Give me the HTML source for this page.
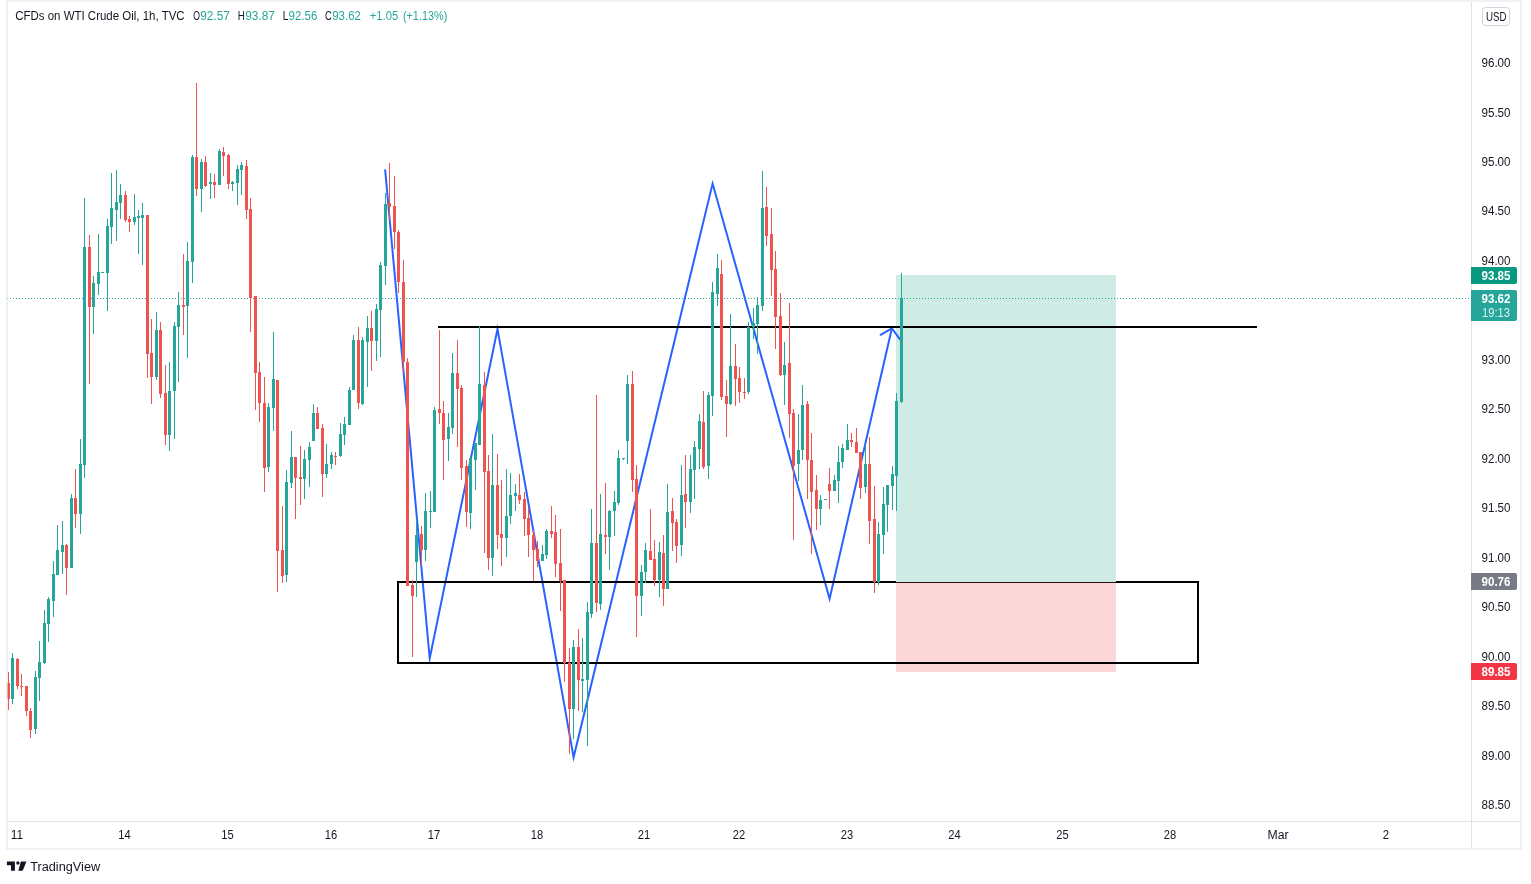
<!DOCTYPE html>
<html lang="en"><head><meta charset="utf-8"><title>CFDs on WTI Crude Oil, 1h, TVC</title>
<style>
html,body{margin:0;padding:0;background:#fff;}
body{width:1531px;height:884px;overflow:hidden;font-family:"Liberation Sans",sans-serif;}
svg{display:block;position:absolute;left:0;top:0;}
text{font-family:"Liberation Sans",sans-serif;}
.ax{font-size:12px;fill:#131722;}
.lb{font-size:12px;fill:#fff;font-weight:bold;}
</style></head><body>
<svg width="1531" height="884" viewBox="0 0 1531 884">

<g shape-rendering="crispEdges">
<rect x="6" y="0" width="1516" height="2" fill="#eff1f5"/>
<rect x="6" y="0" width="2" height="850" fill="#eff1f5"/>
<rect x="1520" y="0" width="2" height="850" fill="#eff1f5"/>
<rect x="6" y="848" width="1516" height="2" fill="#eff1f5"/>
<rect x="1471" y="2" width="1" height="846" fill="#e0e3eb"/>
<rect x="8" y="821" width="1512" height="1" fill="#e0e3eb"/>
</g>
<g shape-rendering="crispEdges">
<rect x="896" y="275" width="220" height="307" fill="#089981" fill-opacity="0.2"/>
<rect x="896" y="582" width="220" height="90" fill="#f23645" fill-opacity="0.2"/>
</g>
<g shape-rendering="crispEdges" fill="#26a69a">
<path d="M10 298h1v1h-1zM13 298h1v1h-1zM16 298h1v1h-1zM19 298h1v1h-1zM22 298h1v1h-1zM25 298h1v1h-1zM28 298h1v1h-1zM31 298h1v1h-1zM34 298h1v1h-1zM37 298h1v1h-1zM40 298h1v1h-1zM43 298h1v1h-1zM46 298h1v1h-1zM49 298h1v1h-1zM52 298h1v1h-1zM55 298h1v1h-1zM58 298h1v1h-1zM61 298h1v1h-1zM64 298h1v1h-1zM67 298h1v1h-1zM70 298h1v1h-1zM73 298h1v1h-1zM76 298h1v1h-1zM79 298h1v1h-1zM82 298h1v1h-1zM85 298h1v1h-1zM88 298h1v1h-1zM91 298h1v1h-1zM94 298h1v1h-1zM97 298h1v1h-1zM100 298h1v1h-1zM103 298h1v1h-1zM106 298h1v1h-1zM109 298h1v1h-1zM112 298h1v1h-1zM115 298h1v1h-1zM118 298h1v1h-1zM121 298h1v1h-1zM124 298h1v1h-1zM127 298h1v1h-1zM130 298h1v1h-1zM133 298h1v1h-1zM136 298h1v1h-1zM139 298h1v1h-1zM142 298h1v1h-1zM145 298h1v1h-1zM148 298h1v1h-1zM151 298h1v1h-1zM154 298h1v1h-1zM157 298h1v1h-1zM160 298h1v1h-1zM163 298h1v1h-1zM166 298h1v1h-1zM169 298h1v1h-1zM172 298h1v1h-1zM175 298h1v1h-1zM178 298h1v1h-1zM181 298h1v1h-1zM184 298h1v1h-1zM187 298h1v1h-1zM190 298h1v1h-1zM193 298h1v1h-1zM196 298h1v1h-1zM199 298h1v1h-1zM202 298h1v1h-1zM205 298h1v1h-1zM208 298h1v1h-1zM211 298h1v1h-1zM214 298h1v1h-1zM217 298h1v1h-1zM220 298h1v1h-1zM223 298h1v1h-1zM226 298h1v1h-1zM229 298h1v1h-1zM232 298h1v1h-1zM235 298h1v1h-1zM238 298h1v1h-1zM241 298h1v1h-1zM244 298h1v1h-1zM247 298h1v1h-1zM250 298h1v1h-1zM253 298h1v1h-1zM256 298h1v1h-1zM259 298h1v1h-1zM262 298h1v1h-1zM265 298h1v1h-1zM268 298h1v1h-1zM271 298h1v1h-1zM274 298h1v1h-1zM277 298h1v1h-1zM280 298h1v1h-1zM283 298h1v1h-1zM286 298h1v1h-1zM289 298h1v1h-1zM292 298h1v1h-1zM295 298h1v1h-1zM298 298h1v1h-1zM301 298h1v1h-1zM304 298h1v1h-1zM307 298h1v1h-1zM310 298h1v1h-1zM313 298h1v1h-1zM316 298h1v1h-1zM319 298h1v1h-1zM322 298h1v1h-1zM325 298h1v1h-1zM328 298h1v1h-1zM331 298h1v1h-1zM334 298h1v1h-1zM337 298h1v1h-1zM340 298h1v1h-1zM343 298h1v1h-1zM346 298h1v1h-1zM349 298h1v1h-1zM352 298h1v1h-1zM355 298h1v1h-1zM358 298h1v1h-1zM361 298h1v1h-1zM364 298h1v1h-1zM367 298h1v1h-1zM370 298h1v1h-1zM373 298h1v1h-1zM376 298h1v1h-1zM379 298h1v1h-1zM382 298h1v1h-1zM385 298h1v1h-1zM388 298h1v1h-1zM391 298h1v1h-1zM394 298h1v1h-1zM397 298h1v1h-1zM400 298h1v1h-1zM403 298h1v1h-1zM406 298h1v1h-1zM409 298h1v1h-1zM412 298h1v1h-1zM415 298h1v1h-1zM418 298h1v1h-1zM421 298h1v1h-1zM424 298h1v1h-1zM427 298h1v1h-1zM430 298h1v1h-1zM433 298h1v1h-1zM436 298h1v1h-1zM439 298h1v1h-1zM442 298h1v1h-1zM445 298h1v1h-1zM448 298h1v1h-1zM451 298h1v1h-1zM454 298h1v1h-1zM457 298h1v1h-1zM460 298h1v1h-1zM463 298h1v1h-1zM466 298h1v1h-1zM469 298h1v1h-1zM472 298h1v1h-1zM475 298h1v1h-1zM478 298h1v1h-1zM481 298h1v1h-1zM484 298h1v1h-1zM487 298h1v1h-1zM490 298h1v1h-1zM493 298h1v1h-1zM496 298h1v1h-1zM499 298h1v1h-1zM502 298h1v1h-1zM505 298h1v1h-1zM508 298h1v1h-1zM511 298h1v1h-1zM514 298h1v1h-1zM517 298h1v1h-1zM520 298h1v1h-1zM523 298h1v1h-1zM526 298h1v1h-1zM529 298h1v1h-1zM532 298h1v1h-1zM535 298h1v1h-1zM538 298h1v1h-1zM541 298h1v1h-1zM544 298h1v1h-1zM547 298h1v1h-1zM550 298h1v1h-1zM553 298h1v1h-1zM556 298h1v1h-1zM559 298h1v1h-1zM562 298h1v1h-1zM565 298h1v1h-1zM568 298h1v1h-1zM571 298h1v1h-1zM574 298h1v1h-1zM577 298h1v1h-1zM580 298h1v1h-1zM583 298h1v1h-1zM586 298h1v1h-1zM589 298h1v1h-1zM592 298h1v1h-1zM595 298h1v1h-1zM598 298h1v1h-1zM601 298h1v1h-1zM604 298h1v1h-1zM607 298h1v1h-1zM610 298h1v1h-1zM613 298h1v1h-1zM616 298h1v1h-1zM619 298h1v1h-1zM622 298h1v1h-1zM625 298h1v1h-1zM628 298h1v1h-1zM631 298h1v1h-1zM634 298h1v1h-1zM637 298h1v1h-1zM640 298h1v1h-1zM643 298h1v1h-1zM646 298h1v1h-1zM649 298h1v1h-1zM652 298h1v1h-1zM655 298h1v1h-1zM658 298h1v1h-1zM661 298h1v1h-1zM664 298h1v1h-1zM667 298h1v1h-1zM670 298h1v1h-1zM673 298h1v1h-1zM676 298h1v1h-1zM679 298h1v1h-1zM682 298h1v1h-1zM685 298h1v1h-1zM688 298h1v1h-1zM691 298h1v1h-1zM694 298h1v1h-1zM697 298h1v1h-1zM700 298h1v1h-1zM703 298h1v1h-1zM706 298h1v1h-1zM709 298h1v1h-1zM712 298h1v1h-1zM715 298h1v1h-1zM718 298h1v1h-1zM721 298h1v1h-1zM724 298h1v1h-1zM727 298h1v1h-1zM730 298h1v1h-1zM733 298h1v1h-1zM736 298h1v1h-1zM739 298h1v1h-1zM742 298h1v1h-1zM745 298h1v1h-1zM748 298h1v1h-1zM751 298h1v1h-1zM754 298h1v1h-1zM757 298h1v1h-1zM760 298h1v1h-1zM763 298h1v1h-1zM766 298h1v1h-1zM769 298h1v1h-1zM772 298h1v1h-1zM775 298h1v1h-1zM778 298h1v1h-1zM781 298h1v1h-1zM784 298h1v1h-1zM787 298h1v1h-1zM790 298h1v1h-1zM793 298h1v1h-1zM796 298h1v1h-1zM799 298h1v1h-1zM802 298h1v1h-1zM805 298h1v1h-1zM808 298h1v1h-1zM811 298h1v1h-1zM814 298h1v1h-1zM817 298h1v1h-1zM820 298h1v1h-1zM823 298h1v1h-1zM826 298h1v1h-1zM829 298h1v1h-1zM832 298h1v1h-1zM835 298h1v1h-1zM838 298h1v1h-1zM841 298h1v1h-1zM844 298h1v1h-1zM847 298h1v1h-1zM850 298h1v1h-1zM853 298h1v1h-1zM856 298h1v1h-1zM859 298h1v1h-1zM862 298h1v1h-1zM865 298h1v1h-1zM868 298h1v1h-1zM871 298h1v1h-1zM874 298h1v1h-1zM877 298h1v1h-1zM880 298h1v1h-1zM883 298h1v1h-1zM886 298h1v1h-1zM889 298h1v1h-1zM892 298h1v1h-1zM895 298h1v1h-1zM898 298h1v1h-1zM901 298h1v1h-1zM904 298h1v1h-1zM907 298h1v1h-1zM910 298h1v1h-1zM913 298h1v1h-1zM916 298h1v1h-1zM919 298h1v1h-1zM922 298h1v1h-1zM925 298h1v1h-1zM928 298h1v1h-1zM931 298h1v1h-1zM934 298h1v1h-1zM937 298h1v1h-1zM940 298h1v1h-1zM943 298h1v1h-1zM946 298h1v1h-1zM949 298h1v1h-1zM952 298h1v1h-1zM955 298h1v1h-1zM958 298h1v1h-1zM961 298h1v1h-1zM964 298h1v1h-1zM967 298h1v1h-1zM970 298h1v1h-1zM973 298h1v1h-1zM976 298h1v1h-1zM979 298h1v1h-1zM982 298h1v1h-1zM985 298h1v1h-1zM988 298h1v1h-1zM991 298h1v1h-1zM994 298h1v1h-1zM997 298h1v1h-1zM1000 298h1v1h-1zM1003 298h1v1h-1zM1006 298h1v1h-1zM1009 298h1v1h-1zM1012 298h1v1h-1zM1015 298h1v1h-1zM1018 298h1v1h-1zM1021 298h1v1h-1zM1024 298h1v1h-1zM1027 298h1v1h-1zM1030 298h1v1h-1zM1033 298h1v1h-1zM1036 298h1v1h-1zM1039 298h1v1h-1zM1042 298h1v1h-1zM1045 298h1v1h-1zM1048 298h1v1h-1zM1051 298h1v1h-1zM1054 298h1v1h-1zM1057 298h1v1h-1zM1060 298h1v1h-1zM1063 298h1v1h-1zM1066 298h1v1h-1zM1069 298h1v1h-1zM1072 298h1v1h-1zM1075 298h1v1h-1zM1078 298h1v1h-1zM1081 298h1v1h-1zM1084 298h1v1h-1zM1087 298h1v1h-1zM1090 298h1v1h-1zM1093 298h1v1h-1zM1096 298h1v1h-1zM1099 298h1v1h-1zM1102 298h1v1h-1zM1105 298h1v1h-1zM1108 298h1v1h-1zM1111 298h1v1h-1zM1114 298h1v1h-1zM1117 298h1v1h-1zM1120 298h1v1h-1zM1123 298h1v1h-1zM1126 298h1v1h-1zM1129 298h1v1h-1zM1132 298h1v1h-1zM1135 298h1v1h-1zM1138 298h1v1h-1zM1141 298h1v1h-1zM1144 298h1v1h-1zM1147 298h1v1h-1zM1150 298h1v1h-1zM1153 298h1v1h-1zM1156 298h1v1h-1zM1159 298h1v1h-1zM1162 298h1v1h-1zM1165 298h1v1h-1zM1168 298h1v1h-1zM1171 298h1v1h-1zM1174 298h1v1h-1zM1177 298h1v1h-1zM1180 298h1v1h-1zM1183 298h1v1h-1zM1186 298h1v1h-1zM1189 298h1v1h-1zM1192 298h1v1h-1zM1195 298h1v1h-1zM1198 298h1v1h-1zM1201 298h1v1h-1zM1204 298h1v1h-1zM1207 298h1v1h-1zM1210 298h1v1h-1zM1213 298h1v1h-1zM1216 298h1v1h-1zM1219 298h1v1h-1zM1222 298h1v1h-1zM1225 298h1v1h-1zM1228 298h1v1h-1zM1231 298h1v1h-1zM1234 298h1v1h-1zM1237 298h1v1h-1zM1240 298h1v1h-1zM1243 298h1v1h-1zM1246 298h1v1h-1zM1249 298h1v1h-1zM1252 298h1v1h-1zM1255 298h1v1h-1zM1258 298h1v1h-1zM1261 298h1v1h-1zM1264 298h1v1h-1zM1267 298h1v1h-1zM1270 298h1v1h-1zM1273 298h1v1h-1zM1276 298h1v1h-1zM1279 298h1v1h-1zM1282 298h1v1h-1zM1285 298h1v1h-1zM1288 298h1v1h-1zM1291 298h1v1h-1zM1294 298h1v1h-1zM1297 298h1v1h-1zM1300 298h1v1h-1zM1303 298h1v1h-1zM1306 298h1v1h-1zM1309 298h1v1h-1zM1312 298h1v1h-1zM1315 298h1v1h-1zM1318 298h1v1h-1zM1321 298h1v1h-1zM1324 298h1v1h-1zM1327 298h1v1h-1zM1330 298h1v1h-1zM1333 298h1v1h-1zM1336 298h1v1h-1zM1339 298h1v1h-1zM1342 298h1v1h-1zM1345 298h1v1h-1zM1348 298h1v1h-1zM1351 298h1v1h-1zM1354 298h1v1h-1zM1357 298h1v1h-1zM1360 298h1v1h-1zM1363 298h1v1h-1zM1366 298h1v1h-1zM1369 298h1v1h-1zM1372 298h1v1h-1zM1375 298h1v1h-1zM1378 298h1v1h-1zM1381 298h1v1h-1zM1384 298h1v1h-1zM1387 298h1v1h-1zM1390 298h1v1h-1zM1393 298h1v1h-1zM1396 298h1v1h-1zM1399 298h1v1h-1zM1402 298h1v1h-1zM1405 298h1v1h-1zM1408 298h1v1h-1zM1411 298h1v1h-1zM1414 298h1v1h-1zM1417 298h1v1h-1zM1420 298h1v1h-1zM1423 298h1v1h-1zM1426 298h1v1h-1zM1429 298h1v1h-1zM1432 298h1v1h-1zM1435 298h1v1h-1zM1438 298h1v1h-1zM1441 298h1v1h-1zM1444 298h1v1h-1zM1447 298h1v1h-1zM1450 298h1v1h-1zM1453 298h1v1h-1zM1456 298h1v1h-1zM1459 298h1v1h-1zM1462 298h1v1h-1zM1465 298h1v1h-1zM1468 298h1v1h-1z"/>
<rect x="7" y="298" width="1" height="1" fill-opacity="0.4"/>
</g>
<polyline fill="none" stroke="#2962ff" stroke-width="2" stroke-linejoin="miter" stroke-miterlimit="10" points="385.1,169.3 429.7,658.5 497.5,329 573.6,757.3 712.6,183.6 829.6,598.7 891.9,328.3"/>
<polyline fill="none" stroke="#2962ff" stroke-width="2" stroke-linecap="round" stroke-linejoin="round" points="880.6,334.8 891.9,328.3 900,339.3"/>
<g shape-rendering="crispEdges">
<rect x="438" y="326" width="819" height="2" fill="#000"/>
<rect x="398" y="582" width="800" height="81" fill="none" stroke="#000" stroke-width="2"/>
</g>
<g shape-rendering="crispEdges">
<rect x="896" y="581" width="220" height="1" fill="#c9ede6"/>
<rect x="896" y="582" width="220" height="1" fill="#2b0b0d"/>
</g>
<g shape-rendering="crispEdges">
<path fill="#26a69a" d="M12 653h1v51h-1zM11 658h3v41h-3zM35 671h1v63h-1zM34 677h3v52h-3zM39 641h1v60h-1zM38 662h3v16h-3zM44 610h1v54h-1zM43 623h3v40h-3zM48 597h1v45h-1zM47 599h3v25h-3zM53 561h1v56h-1zM52 574h3v27h-3zM57 525h1v50h-1zM56 550h3v25h-3zM62 521h1v53h-1zM61 545h3v7h-3zM71 494h1v74h-1zM70 498h3v70h-3zM80 439h1v95h-1zM79 464h3v50h-3zM84 198h1v280h-1zM83 247h3v218h-3zM93 276h1v58h-1zM92 283h3v24h-3zM98 234h1v61h-1zM97 272h3v12h-3zM101 272h3v1h-3zM107 219h1v92h-1zM106 226h3v47h-3zM111 173h1v71h-1zM110 208h3v19h-3zM116 170h1v71h-1zM115 202h3v8h-3zM120 184h1v35h-1zM119 195h3v8h-3zM134 194h1v31h-1zM133 217h3v5h-3zM138 210h1v44h-1zM137 216h3v2h-3zM142 203h1v62h-1zM141 215h3v3h-3zM156 312h1v68h-1zM155 330h3v47h-3zM169 362h1v89h-1zM168 391h3v44h-3zM174 322h1v117h-1zM173 326h3v65h-3zM178 292h1v90h-1zM177 305h3v22h-3zM187 242h1v116h-1zM186 261h3v45h-3zM192 155h1v128h-1zM191 157h3v105h-3zM201 159h1v53h-1zM200 162h3v27h-3zM210 173h1v26h-1zM209 182h3v2h-3zM219 149h1v36h-1zM218 151h3v34h-3zM232 181h1v10h-1zM231 182h3v2h-3zM237 165h1v40h-1zM236 169h3v14h-3zM241 162h1v33h-1zM240 165h3v5h-3zM268 403h1v69h-1zM267 407h3v60h-3zM273 332h1v99h-1zM272 379h3v29h-3zM286 470h1v112h-1zM285 482h3v93h-3zM291 431h1v57h-1zM290 457h3v26h-3zM304 450h1v49h-1zM303 459h3v20h-3zM309 442h1v45h-1zM308 447h3v13h-3zM313 404h1v37h-1zM312 413h3v28h-3zM326 444h1v34h-1zM325 464h3v10h-3zM331 452h1v17h-1zM330 455h3v9h-3zM340 423h1v34h-1zM339 434h3v22h-3zM344 417h1v28h-1zM343 424h3v11h-3zM349 387h1v38h-1zM348 390h3v35h-3zM353 335h1v55h-1zM352 340h3v50h-3zM362 337h1v68h-1zM361 340h3v64h-3zM367 316h1v71h-1zM366 328h3v14h-3zM376 304h1v57h-1zM375 309h3v32h-3zM380 262h1v95h-1zM379 265h3v45h-3zM385 193h1v92h-1zM384 204h3v62h-3zM416 519h1v78h-1zM415 535h3v27h-3zM425 493h1v68h-1zM424 511h3v39h-3zM430 491h1v37h-1zM429 511h3v1h-3zM434 407h1v105h-1zM433 410h3v102h-3zM448 413h1v48h-1zM447 427h3v12h-3zM452 353h1v81h-1zM451 373h3v55h-3zM470 455h1v74h-1zM469 458h3v55h-3zM475 443h1v47h-1zM474 443h3v17h-3zM479 326h1v119h-1zM478 384h3v61h-3zM492 434h1v142h-1zM491 485h3v73h-3zM506 469h1v88h-1zM505 516h3v22h-3zM510 473h1v51h-1zM509 495h3v21h-3zM515 484h1v27h-1zM514 493h3v3h-3zM542 545h1v16h-1zM541 554h3v7h-3zM546 529h1v30h-1zM545 531h3v24h-3zM573 640h1v99h-1zM572 647h3v62h-3zM582 638h1v74h-1zM581 679h3v2h-3zM587 602h1v144h-1zM586 612h3v68h-3zM591 509h1v109h-1zM590 543h3v71h-3zM600 494h1v116h-1zM599 534h3v70h-3zM609 510h1v60h-1zM608 511h3v26h-3zM614 491h1v45h-1zM613 502h3v9h-3zM618 450h1v55h-1zM617 458h3v45h-3zM623 458h1v2h-1zM622 458h3v1h-3zM627 375h1v89h-1zM626 384h3v57h-3zM641 565h1v51h-1zM640 572h3v24h-3zM645 543h1v40h-1zM644 550h3v22h-3zM659 542h1v55h-1zM658 552h3v28h-3zM667 484h1v105h-1zM666 512h3v77h-3zM681 465h1v91h-1zM680 495h3v50h-3zM690 455h1v58h-1zM689 469h3v33h-3zM694 441h1v58h-1zM693 447h3v23h-3zM699 414h1v55h-1zM698 421h3v28h-3zM708 392h1v87h-1zM707 395h3v71h-3zM712 282h1v134h-1zM711 292h3v104h-3zM717 254h1v52h-1zM716 268h3v26h-3zM730 314h1v91h-1zM729 366h3v38h-3zM748 322h1v72h-1zM747 327h3v65h-3zM753 308h1v31h-1zM752 323h3v4h-3zM757 297h1v57h-1zM756 305h3v19h-3zM762 171h1v140h-1zM761 208h3v98h-3zM784 342h1v63h-1zM783 365h3v10h-3zM798 414h1v67h-1zM797 450h3v14h-3zM802 385h1v75h-1zM801 405h3v45h-3zM820 495h1v30h-1zM819 500h3v9h-3zM824 499h3v1h-3zM834 475h1v16h-1zM833 480h3v11h-3zM838 446h1v57h-1zM837 462h3v19h-3zM842 444h1v24h-1zM841 448h3v14h-3zM847 424h1v26h-1zM846 440h3v10h-3zM865 444h1v49h-1zM864 464h3v23h-3zM878 522h1v63h-1zM877 534h3v48h-3zM883 487h1v67h-1zM882 504h3v31h-3zM887 485h1v47h-1zM886 485h3v20h-3zM892 466h1v44h-1zM891 474h3v12h-3zM896 393h1v118h-1zM895 401h3v75h-3zM901 273h1v130h-1zM900 298h3v104h-3z"/>
<path fill="#ef5350" d="M8 672h1v38h-1zM8 683h2v16h-2zM17 658h1v31h-1zM16 659h3v27h-3zM21 674h1v22h-1zM20 686h3v1h-3zM26 686h1v30h-1zM25 686h3v25h-3zM30 708h1v30h-1zM29 711h3v19h-3zM66 544h1v51h-1zM65 545h3v23h-3zM75 469h1v59h-1zM74 498h3v16h-3zM89 235h1v149h-1zM88 247h3v60h-3zM125 191h1v31h-1zM124 195h3v25h-3zM129 216h1v16h-1zM128 219h3v3h-3zM147 215h1v163h-1zM146 215h3v139h-3zM151 319h1v85h-1zM150 353h3v24h-3zM160 322h1v76h-1zM159 330h3v64h-3zM165 365h1v80h-1zM164 393h3v42h-3zM183 254h1v81h-1zM182 305h3v2h-3zM196 83h1v113h-1zM195 157h3v32h-3zM205 156h1v31h-1zM204 162h3v24h-3zM214 174h1v24h-1zM213 182h3v3h-3zM223 147h1v29h-1zM222 152h3v4h-3zM228 154h1v35h-1zM227 155h3v29h-3zM246 160h1v59h-1zM245 166h3v44h-3zM250 198h1v134h-1zM249 209h3v89h-3zM255 296h1v114h-1zM254 296h3v77h-3zM259 362h1v60h-1zM258 372h3v31h-3zM264 377h1v115h-1zM263 403h3v65h-3zM277 380h1v212h-1zM276 380h3v171h-3zM282 506h1v77h-1zM281 550h3v26h-3zM295 457h1v62h-1zM294 457h3v21h-3zM300 446h1v59h-1zM299 477h3v2h-3zM317 407h1v22h-1zM316 413h3v16h-3zM322 424h1v73h-1zM321 428h3v46h-3zM335 452h1v13h-1zM334 456h3v1h-3zM358 327h1v82h-1zM357 340h3v63h-3zM371 311h1v60h-1zM370 328h3v13h-3zM389 163h1v58h-1zM388 203h3v4h-3zM394 176h1v73h-1zM393 206h3v26h-3zM398 230h1v63h-1zM397 232h3v50h-3zM403 260h1v112h-1zM402 282h3v80h-3zM407 358h1v228h-1zM406 362h3v224h-3zM412 580h1v77h-1zM411 585h3v11h-3zM421 526h1v40h-1zM420 534h3v16h-3zM439 330h1v94h-1zM438 409h3v4h-3zM443 401h1v79h-1zM442 413h3v27h-3zM457 340h1v107h-1zM456 373h3v16h-3zM461 385h1v95h-1zM460 388h3v80h-3zM466 460h1v67h-1zM465 466h3v46h-3zM484 372h1v181h-1zM483 385h3v87h-3zM488 455h1v115h-1zM487 471h3v87h-3zM497 454h1v95h-1zM496 485h3v50h-3zM501 480h1v86h-1zM500 534h3v4h-3zM519 474h1v30h-1zM518 495h3v5h-3zM524 492h1v44h-1zM523 499h3v20h-3zM528 508h1v49h-1zM527 518h3v17h-3zM533 530h1v51h-1zM532 535h3v15h-3zM537 541h1v26h-1zM536 549h3v12h-3zM551 506h1v32h-1zM550 531h3v3h-3zM555 515h1v62h-1zM554 532h3v32h-3zM560 529h1v82h-1zM559 563h3v18h-3zM564 580h1v102h-1zM563 580h3v83h-3zM569 648h1v106h-1zM568 663h3v46h-3zM578 629h1v82h-1zM577 647h3v33h-3zM596 395h1v217h-1zM595 543h3v60h-3zM605 483h1v71h-1zM604 535h3v2h-3zM632 371h1v121h-1zM631 384h3v96h-3zM636 465h1v172h-1zM635 479h3v117h-3zM650 509h1v51h-1zM649 551h3v9h-3zM654 540h1v46h-1zM653 559h3v21h-3zM663 535h1v71h-1zM662 553h3v36h-3zM672 498h1v53h-1zM671 511h3v12h-3zM676 519h1v44h-1zM675 522h3v24h-3zM685 455h1v73h-1zM684 494h3v8h-3zM703 391h1v78h-1zM702 422h3v45h-3zM721 260h1v140h-1zM720 274h3v123h-3zM726 380h1v57h-1zM725 396h3v8h-3zM735 344h1v62h-1zM734 366h3v13h-3zM739 367h1v36h-1zM738 378h3v14h-3zM744 378h1v21h-1zM743 392h3v1h-3zM766 187h1v59h-1zM765 207h3v29h-3zM771 208h1v88h-1zM770 234h3v36h-3zM775 251h1v98h-1zM774 269h3v48h-3zM780 293h1v83h-1zM779 316h3v59h-3zM789 303h1v135h-1zM788 363h3v51h-3zM793 409h1v131h-1zM792 413h3v53h-3zM807 401h1v98h-1zM806 404h3v56h-3zM811 433h1v121h-1zM810 460h3v32h-3zM816 475h1v55h-1zM815 490h3v19h-3zM829 468h1v41h-1zM828 484h3v7h-3zM851 433h1v14h-1zM850 440h3v2h-3zM856 428h1v25h-1zM855 442h3v11h-3zM860 452h1v47h-1zM859 452h3v36h-3zM869 437h1v107h-1zM868 464h3v57h-3zM874 486h1v107h-1zM873 519h3v63h-3z"/>
<rect x="7" y="683" width="1" height="16" fill="#ef5350" fill-opacity="0.45"/>
</g>
<text x="15.2" y="20" textLength="169.4" lengthAdjust="spacingAndGlyphs" class="ax" fill="#131722" style="fill:#131722" >CFDs on WTI Crude Oil, 1h, TVC</text>
<text x="193.3" y="20" textLength="6.7" lengthAdjust="spacingAndGlyphs" class="ax" fill="#131722" style="fill:#131722" >O</text>
<text x="200.2" y="20" textLength="29.6" lengthAdjust="spacingAndGlyphs" class="ax" fill="#26a69a" style="fill:#26a69a" >92.57</text>
<text x="237.7" y="20" textLength="7.1" lengthAdjust="spacingAndGlyphs" class="ax" fill="#131722" style="fill:#131722" >H</text>
<text x="245.2" y="20" textLength="29.7" lengthAdjust="spacingAndGlyphs" class="ax" fill="#26a69a" style="fill:#26a69a" >93.87</text>
<text x="282.7" y="20" textLength="5.6" lengthAdjust="spacingAndGlyphs" class="ax" fill="#131722" style="fill:#131722" >L</text>
<text x="288.6" y="20" textLength="28.7" lengthAdjust="spacingAndGlyphs" class="ax" fill="#26a69a" style="fill:#26a69a" >92.56</text>
<text x="325" y="20" textLength="6.8" lengthAdjust="spacingAndGlyphs" class="ax" fill="#131722" style="fill:#131722" >C</text>
<text x="332.2" y="20" textLength="28.8" lengthAdjust="spacingAndGlyphs" class="ax" fill="#26a69a" style="fill:#26a69a" >93.62</text>
<text x="369.7" y="20" textLength="28.5" lengthAdjust="spacingAndGlyphs" class="ax" fill="#26a69a" style="fill:#26a69a" >+1.05</text>
<text x="402.9" y="20" textLength="44.4" lengthAdjust="spacingAndGlyphs" class="ax" fill="#26a69a" style="fill:#26a69a" >(+1.13%)</text>
<text x="1481.5" y="67.0" textLength="29" lengthAdjust="spacingAndGlyphs" class="ax">96.00</text>
<text x="1481.5" y="116.5" textLength="29" lengthAdjust="spacingAndGlyphs" class="ax">95.50</text>
<text x="1481.5" y="165.9" textLength="29" lengthAdjust="spacingAndGlyphs" class="ax">95.00</text>
<text x="1481.5" y="215.4" textLength="29" lengthAdjust="spacingAndGlyphs" class="ax">94.50</text>
<text x="1481.5" y="264.9" textLength="29" lengthAdjust="spacingAndGlyphs" class="ax">94.00</text>
<text x="1481.5" y="314.3" textLength="29" lengthAdjust="spacingAndGlyphs" class="ax">93.50</text>
<text x="1481.5" y="363.8" textLength="29" lengthAdjust="spacingAndGlyphs" class="ax">93.00</text>
<text x="1481.5" y="413.3" textLength="29" lengthAdjust="spacingAndGlyphs" class="ax">92.50</text>
<text x="1481.5" y="462.7" textLength="29" lengthAdjust="spacingAndGlyphs" class="ax">92.00</text>
<text x="1481.5" y="512.2" textLength="29" lengthAdjust="spacingAndGlyphs" class="ax">91.50</text>
<text x="1481.5" y="561.6" textLength="29" lengthAdjust="spacingAndGlyphs" class="ax">91.00</text>
<text x="1481.5" y="611.1" textLength="29" lengthAdjust="spacingAndGlyphs" class="ax">90.50</text>
<text x="1481.5" y="660.6" textLength="29" lengthAdjust="spacingAndGlyphs" class="ax">90.00</text>
<text x="1481.5" y="710.0" textLength="29" lengthAdjust="spacingAndGlyphs" class="ax">89.50</text>
<text x="1481.5" y="759.5" textLength="29" lengthAdjust="spacingAndGlyphs" class="ax">89.00</text>
<text x="1481.5" y="809.0" textLength="29" lengthAdjust="spacingAndGlyphs" class="ax">88.50</text>
<rect x="1482.5" y="7.5" width="27" height="18" rx="3" ry="3" fill="#fff" stroke="#d1d4dc" stroke-width="1"/>
<text x="1486" y="21.1" textLength="20.5" lengthAdjust="spacingAndGlyphs" class="ax">USD</text>
<path d="M1471 267h44a2 2 0 0 1 2 2v13a2 2 0 0 1 -2 2h-44z" fill="#089981"/>
<text x="1481.5" y="280" textLength="29" lengthAdjust="spacingAndGlyphs" class="lb">93.85</text>
<path d="M1471 290h44a2 2 0 0 1 2 2v27a2 2 0 0 1 -2 2h-44z" fill="#26a69a"/>
<text x="1481.5" y="303" textLength="29" lengthAdjust="spacingAndGlyphs" class="lb">93.62</text>
<text x="1482" y="317" textLength="28" lengthAdjust="spacingAndGlyphs" class="ax" style="fill:#fff;fill-opacity:.85">19:13</text>
<path d="M1471 573h44a2 2 0 0 1 2 2v13a2 2 0 0 1 -2 2h-44z" fill="#787b86"/>
<text x="1481.5" y="586" textLength="29" lengthAdjust="spacingAndGlyphs" class="lb">90.76</text>
<path d="M1471 663h44a2 2 0 0 1 2 2v13a2 2 0 0 1 -2 2h-44z" fill="#f23645"/>
<text x="1481.5" y="676" textLength="29" lengthAdjust="spacingAndGlyphs" class="lb">89.85</text>
<text x="10.8" y="839.2" textLength="12.4" lengthAdjust="spacingAndGlyphs" class="ax">11</text>
<text x="118.3" y="839.2" textLength="12.4" lengthAdjust="spacingAndGlyphs" class="ax">14</text>
<text x="221.3" y="839.2" textLength="12.4" lengthAdjust="spacingAndGlyphs" class="ax">15</text>
<text x="324.8" y="839.2" textLength="12.4" lengthAdjust="spacingAndGlyphs" class="ax">16</text>
<text x="427.8" y="839.2" textLength="12.4" lengthAdjust="spacingAndGlyphs" class="ax">17</text>
<text x="530.8" y="839.2" textLength="12.4" lengthAdjust="spacingAndGlyphs" class="ax">18</text>
<text x="637.8" y="839.2" textLength="12.4" lengthAdjust="spacingAndGlyphs" class="ax">21</text>
<text x="732.8" y="839.2" textLength="12.4" lengthAdjust="spacingAndGlyphs" class="ax">22</text>
<text x="840.8" y="839.2" textLength="12.4" lengthAdjust="spacingAndGlyphs" class="ax">23</text>
<text x="948.3" y="839.2" textLength="12.4" lengthAdjust="spacingAndGlyphs" class="ax">24</text>
<text x="1056.3" y="839.2" textLength="12.4" lengthAdjust="spacingAndGlyphs" class="ax">25</text>
<text x="1163.8" y="839.2" textLength="12.4" lengthAdjust="spacingAndGlyphs" class="ax">28</text>
<text x="1267.5" y="839.2" textLength="21" lengthAdjust="spacingAndGlyphs" class="ax">Mar</text>
<text x="1382.8" y="839.2" textLength="6.3" lengthAdjust="spacingAndGlyphs" class="ax">2</text>
<path fill="#131722" d="M6.9 861.4h8v9.4h-3.9v-5.5h-4.1z"/>
<circle cx="17.9" cy="863" r="1.65" fill="#131722"/>
<path fill="#131722" d="M20.9 861.4h5.5l-3.7 9.4h-4.4z"/>
<text x="30.2" y="870.8" textLength="70" lengthAdjust="spacingAndGlyphs" style="font-size:12.5px;fill:#131722">TradingView</text>
</svg>
</body></html>
